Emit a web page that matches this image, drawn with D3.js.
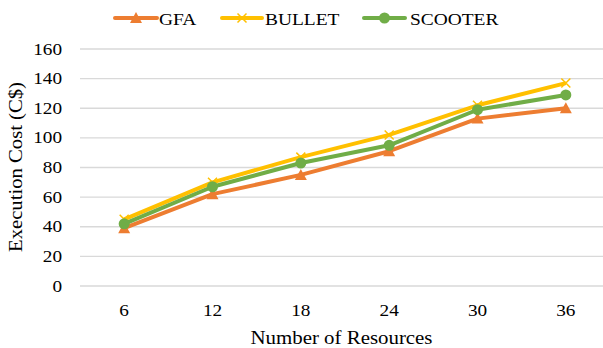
<!DOCTYPE html>
<html><head><meta charset="utf-8">
<script src="https://cdn.jsdelivr.net/npm/d3@7"></script>
<style>html,body{margin:0;padding:0;background:#fff;}svg{display:block;}</style>
</head><body>
<script>
const categories = ["6", "12", "18", "24", "30", "36"];
const gfa = [39, 62, 75, 91, 113, 120];
const bullet = [45, 70, 87, 102, 122, 137];
const scooter = [42, 67, 83, 95, 119, 129];
const yTicks = [0, 20, 40, 60, 80, 100, 120, 140, 160];
const seriesNames = ["GFA", "BULLET", "SCOOTER"];

const series = [
  {name: seriesNames[0], values: gfa, color: "#ED7D31", marker: "triangle"},
  {name: seriesNames[1], values: bullet, color: "#FFC000", marker: "cross"},
  {name: seriesNames[2], values: scooter, color: "#70AD47", marker: "circle"}
];

const W = 603, H = 348;
const FONT = "Liberation Serif";
const svg = d3.select("body").append("svg").attr("width", W).attr("height", H);

const x = d3.scaleBand().domain(categories).range([80, 610]).padding(0);
const y = d3.scaleLinear().domain([0, 160]).range([286, 49]);

function label(g, txt, tx, ty, anchor, size, sx, rot) {
  const gg = g.append("g").attr("transform", `translate(${tx},${ty})` + (rot ? ` rotate(${rot})` : "") + ` scale(${sx},1)`);
  return gg.append("text").attr("x", 0).attr("y", 0).attr("text-anchor", anchor)
    .style("font-family", FONT).attr("font-size", size).attr("fill", "#000").text(txt);
}

// gridlines
svg.append("g").selectAll("line").data(yTicks).join("line")
  .attr("x1", 80).attr("x2", 610)
  .attr("y1", d => y(d)).attr("y2", d => y(d))
  .attr("stroke", "#d9d9d9").attr("stroke-width", 1.3);

// y tick labels
const yl = svg.append("g");
yTicks.forEach(t => label(yl, String(t), 62, y(t) + 5.5, "end", 17.5, 1.1));

// x tick labels
const xl = svg.append("g");
categories.forEach(c => label(xl, c, x(c) + x.bandwidth() / 2, 316, "middle", 17.5, 1.1));

// axis titles
label(svg, "Number of Resources", 341.5, 344, "middle", 18, 1.16);
label(svg, "Execution Cost (C$)", 21.5, 167, "middle", 18, 1.15, -90);

const cx = c => x(c) + x.bandwidth() / 2;
const line = d3.line().x((d, i) => cx(categories[i])).y(d => y(d));

function drawMarker(g, type, px, py, color) {
  if (type === "triangle") {
    g.append("path").attr("d", `M${px},${py - 6} L${px + 6},${py + 5} L${px - 6},${py + 5} Z`).attr("fill", color);
  } else if (type === "circle") {
    g.append("circle").attr("cx", px).attr("cy", py).attr("r", 5.5).attr("fill", color);
  } else {
    g.append("path").attr("d", `M${px - 4.5},${py - 4.5} L${px + 4.5},${py + 4.5} M${px + 4.5},${py - 4.5} L${px - 4.5},${py + 4.5}`)
      .attr("stroke", color).attr("stroke-width", 1.5).attr("fill", "none");
  }
}

series.forEach(s => {
  const g = svg.append("g");
  g.append("path").datum(s.values).attr("d", line).attr("fill", "none")
    .attr("stroke", s.color).attr("stroke-width", 4).attr("stroke-linejoin", "round");
  s.values.forEach((v, i) => drawMarker(g, s.marker, cx(categories[i]), y(v), s.color));
});

// legend
const legendPos = [{x1: 115, x2: 157, tx: 159}, {x1: 222, x2: 262, tx: 265}, {x1: 364, x2: 405, tx: 410}];
const lg = svg.append("g");
series.forEach((s, i) => {
  const p = legendPos[i];
  lg.append("line").attr("x1", p.x1).attr("x2", p.x2).attr("y1", 18).attr("y2", 18)
    .attr("stroke", s.color).attr("stroke-width", 4).attr("stroke-linecap", "round");
  drawMarker(lg, s.marker, (p.x1 + p.x2) / 2, 18, s.color);
  label(lg, s.name, p.tx, 24.5, "start", 17.5, 1.11);
});
</script>
</body></html>
